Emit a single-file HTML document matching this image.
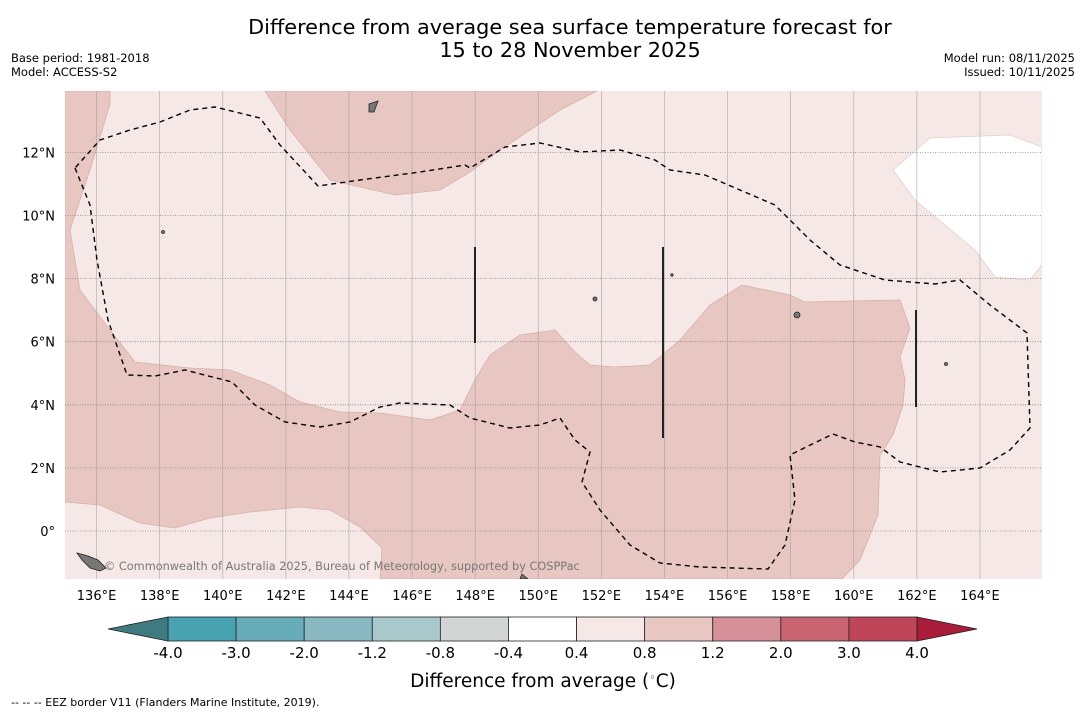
<!DOCTYPE html>
<html><head><meta charset="utf-8">
<style>
body{margin:0;background:#fff;width:1085px;height:713px;overflow:hidden;font-family:"DejaVu Sans","Liberation Sans",sans-serif;}
svg{position:absolute;left:0;top:0}
</style></head>
<body>
<svg width="1085" height="713" xmlns="http://www.w3.org/2000/svg">
<text x="570" y="34" text-anchor="middle" font-size="20.8">Difference from average sea surface temperature forecast for</text>
<text x="570" y="57" text-anchor="middle" font-size="20.8">15 to 28 November 2025</text>
<text x="11" y="62" font-size="11.5">Base period: 1981-2018</text>
<text x="11" y="76" font-size="11.5">Model: ACCESS-S2</text>
<text x="1075" y="62" font-size="11.5" text-anchor="end">Model run: 08/11/2025</text>
<text x="1075" y="76" font-size="11.5" text-anchor="end">Issued: 10/11/2025</text>
<defs><clipPath id="mc"><rect x="65" y="91" width="977" height="488"/></clipPath></defs>
<g clip-path="url(#mc)">
<rect x="65" y="91" width="977" height="488" fill="#f5e8e6"/>
<path fill="#e8c7c2" stroke="#d8b0aa" stroke-width="0.8" d="M65,91 L110,91 L110,104 L90,170 L70,230 L80,290 L110,330 L135,362 L190,368 L230,370 L270,385 L300,402 L340,412 L380,413 L430,420 L460,410 L475,380 L490,355 L520,335 L555,330 L575,352 L590,365 L615,367 L650,365 L680,340 L710,305 L742,285 L790,295 L805,302 L900,300 L910,328 L900,357 L905,380 L903,405 L893,435 L880,455 L878,515 L860,560 L842,579 L380,579 L382,548 L360,527 L330,510 L300,507 L250,512 L210,518 L175,528 L140,523 L100,505 L65,502 Z"/>
<path fill="#e8c7c2" stroke="#d8b0aa" stroke-width="0.8" d="M265,91 L290,130 L330,180 L395,195 L440,190 L470,172 L500,150 L560,110 L597,91 Z"/>
<path fill="#ffffff" stroke="#e0d0ce" stroke-width="0.8" d="M893,170 L930,138 L1010,135 L1042,147 L1042,265 L1030,280 L995,277 L975,250 L945,225 L915,200 Z"/>
<g id="grid"></g>
<path fill="none" stroke="#000" stroke-width="1.4" stroke-dasharray="5,4" d="M75,168 L90,205 L97,260 L108,320 L127,375 L155,376 L185,370 L232,382 L255,405 L285,422 L320,427 L350,422 L380,407 L400,403 L450,405 L470,418 L510,428 L540,425 L560,418 L575,440 L590,452 L582,482 L600,510 L630,545 L660,563 L700,567 L768,569 L785,545 L795,500 L790,455 L800,450 L833,434 L855,442 L880,447 L900,462 L940,472 L980,468 L1010,450 L1030,428 L1027,333 L990,305 L960,280 L935,284 L885,280 L840,265 L810,240 L775,205 L740,190 L705,175 L670,170 L655,160 L620,150 L580,152 L540,143 L505,147 L470,168 L465,165 L420,172 L360,180 L318,186 L280,145 L260,118 L215,107 L190,110 L160,122 L130,130 L100,140 Z"/>
<g stroke="#222" stroke-width="2">
<line x1="475" y1="247" x2="475" y2="343"/><line x1="663" y1="247" x2="663" y2="438"/><line x1="916" y1="310" x2="916" y2="407"/></g>
<g fill="#777" stroke="#222" stroke-width="0.8">
<path d="M77,553 L88,556 L98,560 L106,568 L100,571 L90,568 L82,560 Z"/>
<path d="M369,104 L378,101 L374,112 L369,112 Z"/>
<circle cx="797" cy="315" r="3"/><circle cx="163" cy="232" r="1.5"/><circle cx="595" cy="299" r="2"/>
<circle cx="946" cy="364" r="1.5"/><circle cx="672" cy="275" r="1.2"/><path d="M522,574 L528,579 L520,579 Z"/>
</g>
<text x="104" y="570" font-size="11.3" fill="#777">© Commonwealth of Australia 2025, Bureau of Meteorology, supported by COSPPac</text>
</g>
<g id="xt"></g>
<g id="yt"></g>
<g id="cb"></g>
<text x="543" y="687" text-anchor="middle" font-size="18.5">Difference from average (<tspan baseline-shift="super" font-size="11">◦</tspan>C)</text>
<text x="11" y="706" font-size="11">--  --  -- EEZ border V11 (Flanders Marine Institute, 2019).</text>
</svg>
<script>
const lonTicks=[136,138,140,142,144,146,148,150,152,154,156,158,160,162,164];
const latTicks=[0,2,4,6,8,10,12];
const cbLabels=["-4.0","-3.0","-2.0","-1.2","-0.8","-0.4","0.4","0.8","1.2","2.0","3.0","4.0"];
const cbColors=["#48a2b2","#68acba","#8ab8c3","#a9c8cc","#d3d4d4","#ffffff","#f5e8e6","#e8c7c2","#d6909a","#c96470","#bf4658"];
const NS="http://www.w3.org/2000/svg";
function xS(lon){return 65+(lon-135)*31.55;}
function yS(lat){return 531-lat*31.55;}
function mk(t,a,p){const e=document.createElementNS(NS,t);for(const k in a)e.setAttribute(k,a[k]);p.appendChild(e);return e;}
const grid=document.getElementById('grid'),xt=document.getElementById('xt'),yt=document.getElementById('yt'),cb=document.getElementById('cb');
lonTicks.forEach(l=>{
 const g=mk('line',{x1:xS(l),x2:xS(l),y1:91,y2:579,stroke:'#999','stroke-width':0.7,'stroke-opacity':0.7},grid);
 
 
 const t=mk('text',{x:xS(l),y:600,'text-anchor':'middle','font-size':13},xt);t.textContent=l+'°E';
 
 
});
latTicks.forEach(l=>{
 const g=mk('line',{x1:65,x2:1042,y1:yS(l),y2:yS(l),stroke:'#888','stroke-width':0.8,'stroke-dasharray':'1,1.5'},grid);
 
 
 const t=mk('text',{x:55,y:yS(l)+5,'text-anchor':'end','font-size':13},yt);t.textContent=l===0?'0°':l+'°N';
 
 
});
const x0=168,x1=917,w=(x1-x0)/cbColors.length,yT=617,h=24;
cbColors.forEach((c,i)=>{
 const r=mk('rect',{x:x0+i*w,y:yT,width:w,height:h,fill:c,stroke:'#222','stroke-width':0.8},cb);
 
 
});
let tl=mk('path',{d:`M${x0},${yT} L108,${yT+h/2} L${x0},${yT+h} Z`,fill:'#3e7b80',stroke:'#222','stroke-width':0.8},cb);


let tr=mk('path',{d:`M${x1},${yT} L977,${yT+h/2} L${x1},${yT+h} Z`,fill:'#a91c3a',stroke:'#222','stroke-width':0.8},cb);


cbLabels.forEach((s,i)=>{
 const t=mk('text',{x:x0+i*w,y:658,'text-anchor':'middle','font-size':15},cb);t.textContent=s;
 
 
});
</script>
</body></html>
